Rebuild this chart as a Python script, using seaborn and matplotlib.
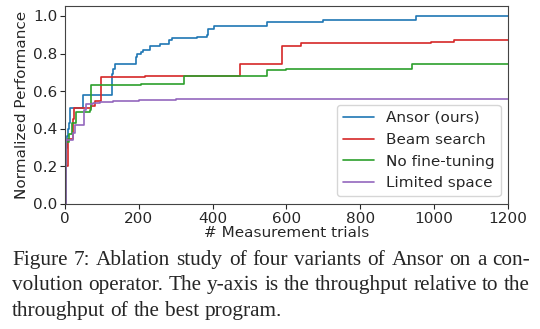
import matplotlib
matplotlib.use("Agg")
import matplotlib.pyplot as plt
import seaborn as sns
import pandas as pd

ansor_x = [0, 2, 5, 8, 12, 15, 50, 127, 131, 135, 192, 196, 205, 212, 230, 257, 283, 289, 348, 357, 384, 388, 405, 547, 699, 950, 1200]
ansor_y = [0.0, 0.30, 0.36, 0.40, 0.43, 0.51, 0.58, 0.69, 0.72, 0.745, 0.78, 0.80, 0.81, 0.82, 0.84, 0.85, 0.87, 0.88, 0.885, 0.89, 0.90, 0.93, 0.947, 0.97, 0.979, 1.0, 1.0]

beam_x = [0, 3, 9, 22, 25, 70, 81, 97, 217, 320, 475, 589, 638, 991, 1054, 1200]
beam_y = [0.0, 0.20, 0.345, 0.45, 0.51, 0.52, 0.55, 0.674, 0.678, 0.68, 0.743, 0.84, 0.855, 0.862, 0.872, 0.872]

noft_x = [0, 3, 12, 20, 30, 68, 70, 72, 205, 322, 547, 600, 940, 1200]
noft_y = [0.0, 0.33, 0.37, 0.43, 0.49, 0.50, 0.55, 0.63, 0.64, 0.68, 0.713, 0.718, 0.743, 0.743]

lim_x = [0, 4, 23, 27, 51, 57, 77, 95, 131, 200, 300, 1200]
lim_y = [0.0, 0.34, 0.38, 0.42, 0.50, 0.53, 0.535, 0.54, 0.55, 0.555, 0.56, 0.56]

labels = ["Ansor (ours)", "Beam search", "No fine-tuning", "Limited space"]
colors = ["#1f77b4", "#d62728", "#2ca02c", "#9467bd"]

caption_lines = ["Figure 7: Ablation study of four variants of Ansor on a con-",
                 "volution operator. The y-axis is the throughput relative to the",
                 "throughput of the best program."]

frames = []
for lab, xs, ys in zip(labels, [ansor_x, beam_x, noft_x, lim_x], [ansor_y, beam_y, noft_y, lim_y]):
    frames.append(pd.DataFrame({"trials": xs, "perf": ys, "variant": lab}))
df = pd.concat(frames, ignore_index=True)

sns.set_style("ticks")
plt.rcParams['font.family'] = ['DejaVu Sans']
plt.rcParams['text.hinting'] = 'native'

fig = plt.figure(figsize=(5.4, 3.29), dpi=100)
ax = fig.add_axes([0.12, 0.38, 0.821, 0.602])
for lab, col in zip(labels, colors):
    sub = df[df["variant"] == lab]
    sns.lineplot(data=sub, x="trials", y="perf", ax=ax, color=col, label=lab,
                 drawstyle="steps-post", linewidth=1.2, estimator=None, sort=False)

ax.set_xlim(0, 1200)
ax.set_ylim(0, 1.053)
ax.set_xticks([0, 200, 400, 600, 800, 1000, 1200])
ax.set_yticks([0.0, 0.2, 0.4, 0.6, 0.8, 1.0])
ax.set_xlabel("# Measurement trials", fontsize=11, labelpad=0)
ax.set_ylabel("Normalized Performance", fontsize=11, labelpad=3)
ax.tick_params(labelsize=11, pad=2)
for s in ax.spines.values():
    s.set_color("#444444")
ax.legend(loc="lower right", fontsize=11, frameon=True, borderaxespad=0.5)

# justified caption, one text per word
renderer = fig.canvas.get_renderer()
x_left, x_right = 12, 530
W, H = 540, 329
baselines = [265, 290.5, 316]
fs = 15.3
for i, line in enumerate(caption_lines):
    yfig = 1 - round(baselines[i]) / H
    words = line.split(" ")
    texts, widths = [], []
    for w in words:
        t = fig.text(0, yfig, w, fontsize=fs, family="Liberation Serif", ha="left", va="baseline")
        texts.append(t)
        widths.append(t.get_window_extent(renderer=renderer).width)
    if i < len(caption_lines) - 1:
        gap = (x_right - x_left - sum(widths)) / (len(words) - 1)
    else:
        gap = fs * 100 / 72 * 0.25
    xpos = x_left
    for t, wd in zip(texts, widths):
        t.set_x(xpos / W)
        xpos += wd + gap

fig.savefig("out.png", dpi=100)
